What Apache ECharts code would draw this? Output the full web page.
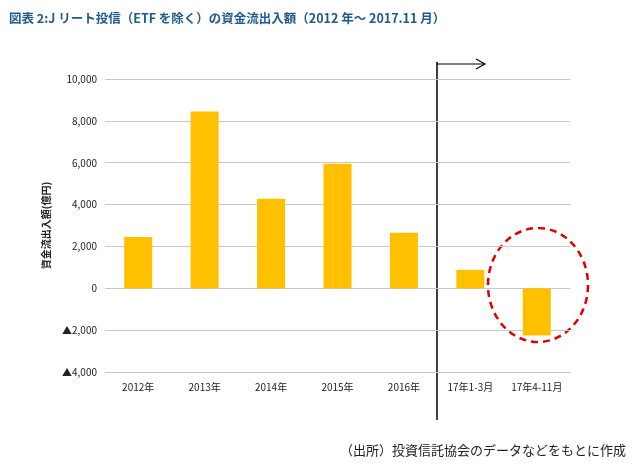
<!DOCTYPE html>
<html><head><meta charset="utf-8">
<script src="https://cdn.jsdelivr.net/npm/echarts@6/dist/echarts.min.js"></script>
<style>html,body{margin:0;background:#fff}#c{width:638px;height:470px}</style>
</head><body><div id="c"></div>
<script>
const categories = ['2012年', '2013年', '2014年', '2015年', '2016年', '17年1-3月', '17年4-11月'];
const flows = [2450, 8450, 4280, 5950, 2650, 880, -2250];

const chart = echarts.init(document.getElementById('c'));
const font = '"Noto Sans CJK JP", sans-serif';
chart.setOption({
  animation: false,
  textStyle: {fontFamily: font},
  title: {
    text: '図表 2:J リート投信（ETF を除く）の資金流出入額（2012 年～ 2017.11 月）',
    left: 4, top: 7,
    textStyle: {fontSize: 12.5, fontWeight: 'bold', color: '#1f5a8c', fontFamily: font}
  },
  grid: {left: 105, right: 68, top: 79, bottom: 98},
  xAxis: {
    type: 'category', data: categories,
    axisLine: {show: false}, axisTick: {show: false},
    axisLabel: {color: '#222', fontSize: 10, margin: 10, interval: 0}
  },
  yAxis: {
    type: 'value', min: -4000, max: 10000, interval: 2000,
    name: '資金流出入額(億円)', nameLocation: 'middle', nameGap: 52,
    nameTextStyle: {fontSize: 10, fontWeight: 'bold', color: '#222'},
    axisLabel: {color: '#222', fontSize: 10,
      formatter: v => (v < 0 ? '▲' : '') + Math.abs(v).toLocaleString('en-US')},
    splitLine: {lineStyle: {color: '#c8c8c8'}}
  },
  series: [{
    type: 'bar', data: flows, barWidth: 28,
    itemStyle: {color: '#ffc000'}
  }],
  graphic: [
    {type: 'line', shape: {x1: 437, y1: 62, x2: 437, y2: 420}, style: {stroke: '#000', lineWidth: 1.5}},
    {type: 'line', shape: {x1: 437, y1: 64, x2: 484, y2: 64}, style: {stroke: '#000', lineWidth: 1.2}},
    {type: 'polyline', shape: {points: [[476, 59], [485, 64], [476, 69]]}, style: {stroke: '#000', fill: null, lineWidth: 1.2}},
    {type: 'ellipse', shape: {cx: 538, cy: 285, rx: 50, ry: 57},
      style: {stroke: '#e00000', fill: null, lineWidth: 2.5, lineDash: [7, 5]}},
    {type: 'text', right: 12, top: 444,
      style: {text: '（出所）投資信託協会のデータなどをもとに作成', font: '13px ' + font, fill: '#222'}}
  ]
});
</script></body></html>
